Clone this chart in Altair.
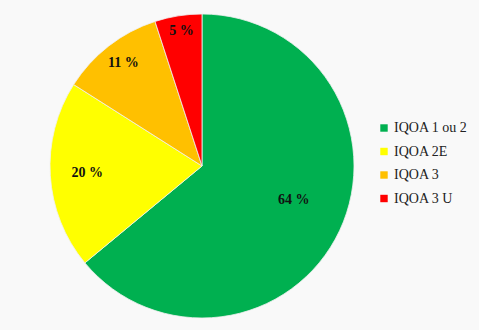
import altair as alt
import pandas as pd

categories = ["IQOA 1 ou 2", "IQOA 2E", "IQOA 3", "IQOA 3 U"]
values = [64, 20, 11, 5]
labels = ["64 %", "20 %", "11 %", "5 %"]
colors = ["#00b050", "#ffff00", "#ffc000", "#ff0000"]

df = pd.DataFrame({"cat": categories, "val": values, "lab": labels,
                   "ord": list(range(len(categories)))})

pie = alt.Chart(df).mark_arc(outerRadius=152, stroke="#f0f0f0", strokeWidth=0.8).encode(
    theta=alt.Theta("val:Q", stack=True),
    order=alt.Order("ord:Q"),
    x=alt.value(202), y=alt.value(166),
    color=alt.Color("cat:N", scale=alt.Scale(domain=categories, range=colors),
                    legend=alt.Legend(title=None, orient="none", legendX=377, legendY=121,
                                      symbolType="square", symbolSize=55,
                                      symbolStrokeWidth=0,
                                      labelFont="Liberation Serif", labelFontSize=14,
                                      labelColor="#222222", rowPadding=9.5,
                                      labelOffset=3))
)

tbase = alt.Chart(df).transform_window(
    cum="sum(val)", sort=[alt.SortField("ord")], frame=[None, 0]
).transform_joinaggregate(total="sum(val)").transform_calculate(
    mid="(datum.cum - datum.val / 2) / datum.total"
)

# label placement per slice: (radius, dx, dy)
placement = {"IQOA 1 ou 2": (98, 3, -8), "IQOA 2E": (115, 0, 0),
             "IQOA 3": (130, 1, 0), "IQOA 3 U": (137, 1, 0)}
texts = []
for c, (r, ddx, ddy) in placement.items():
    texts.append(tbase.transform_filter(alt.datum.cat == c).mark_text(
        radius=r, dx=ddx, dy=ddy, font="Liberation Serif", fontSize=14,
        fontWeight="bold", color="#111111").encode(
        theta=alt.Theta("mid:Q", stack=None,
                        scale=alt.Scale(domain=[0, 1], range=[0, 6.283185307])),
        x=alt.value(202), y=alt.value(166),
        text="lab:N"))

chart = alt.layer(pie, *texts).resolve_scale(theta="independent").properties(
    width=479, height=330, autosize=alt.AutoSizeParams(type="none"),
    padding=0, background="#f9f9f9"
).configure_view(stroke=None)

chart.save("out.html", embed_options={"renderer": "svg", "actions": False})
